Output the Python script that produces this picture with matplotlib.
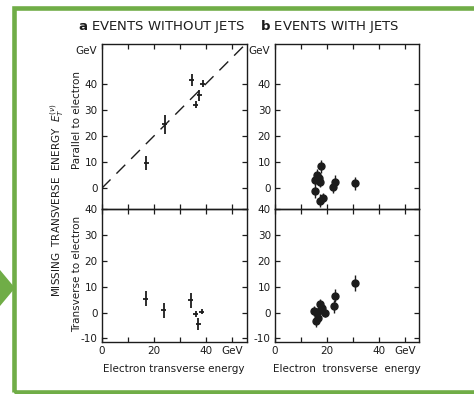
import matplotlib
matplotlib.use("Agg")
import matplotlib.pyplot as plt
from matplotlib.patches import Rectangle, Polygon
import matplotlib.transforms as mtrans

# ---- data ----
# Panel a (without jets): parallel to electron
a_par_x = [17.1, 24.1, 34.4, 36.0, 37.3, 38.6]
a_par_y = [9.8, 24.4, 41.3, 32.0, 35.5, 40.0]
a_par_yerr = [2.7, 3.5, 2.4, 1.3, 2.2, 1.4]
a_par_xerr = [1.0, 1.0, 1.1, 1.0, 1.0, 1.0]
# Panel a: transverse to electron
a_tr_x = [16.8, 23.8, 34.1, 36.0, 37.0, 38.3]
a_tr_y = [5.4, 0.8, 4.8, -0.6, -4.5, 0.4]
a_tr_yerr = [2.9, 3.0, 2.9, 1.2, 2.3, 1.1]
a_tr_xerr = [1.0, 1.0, 1.0, 1.0, 1.0, 1.0]
# Panel b (with jets): parallel to electron
b_par_x = [15.4, 15.4, 16.3, 16.8, 17.3, 17.7, 17.3, 18.6, 22.2, 23.1, 30.8]
b_par_y = [-1.0, 3.2, 5.0, 3.8, 2.5, 8.5, -4.8, -3.6, 0.6, 2.5, 1.9]
b_par_yerr = [2.5, 2.0, 2.5, 2.0, 2.0, 2.5, 2.5, 2.0, 2.5, 2.5, 2.5]
# Panel b: transverse to electron
b_tr_x = [15.0, 15.8, 16.7, 16.3, 17.3, 17.7, 18.3, 19.2, 22.6, 23.1, 31.0]
b_tr_y = [0.6, -3.2, -2.2, -0.3, 3.2, 1.4, 1.9, -0.3, 2.5, 6.5, 11.4]
b_tr_yerr = [2.0, 2.5, 2.0, 2.0, 2.0, 2.0, 2.0, 1.5, 2.5, 2.5, 3.0]

diag = [0, 60]

x_ticks = [0, 10, 20, 30, 40, 50]
x_ticklabels = ['0', '', '20', '', '40', 'GeV']
top_yticks = [0, 10, 20, 30, 40]
bot_yticks = [-10, 0, 10, 20, 30, 40]
bot_yticklabels = ['-10', '0', '10', '20', '30', '40']

W, H = 474, 394
fig = plt.figure(figsize=(W / 100, H / 100), dpi=100)
fig.patch.set_facecolor('white')

ink = '#1c1c1c'
plt.rcParams['font.family'] = ['DejaVu Sans']

def px_axes(x0, y0, x1, y1):
    return fig.add_axes([x0 / W, 1 - y1 / H, (x1 - x0) / W, (y1 - y0) / H])

axL_top = px_axes(101.7, 44.3, 246.7, 209.3)
axL_bot = px_axes(101.7, 209.3, 246.7, 341.7)
axR_top = px_axes(275, 44.3, 419, 209.3)
axR_bot = px_axes(275, 209.3, 419, 341.7)

for ax in (axL_top, axL_bot, axR_top, axR_bot):
    ax.set_xlim(0, 55.5)
    ax.set_xticks(x_ticks)
    ax.tick_params(direction='in', top=True, right=True, length=3.5, width=0.9,
                   colors=ink, labelsize=7.5, pad=3)
    for s in ax.spines.values():
        s.set_linewidth(1.0)
        s.set_color(ink)
    ax.set_facecolor('none')

for ax in (axL_top, axR_top):
    ax.set_ylim(-8, 55)
    ax.set_yticks(top_yticks)
    ax.set_xticklabels([])
    tr = mtrans.blended_transform_factory(ax.transAxes, ax.transData)
    ax.text(-0.035, 52.5, 'GeV', transform=tr, ha='right', va='center',
            fontsize=7.5, color=ink)

for ax in (axL_bot, axR_bot):
    ax.set_ylim(-11.3, 40)
    ax.set_yticks(bot_yticks)
    ax.set_yticklabels(bot_yticklabels)
    ax.set_xticklabels(x_ticklabels)

# panel a
axL_top.plot(diag, diag, ls=(0, (9, 6)), color=ink, lw=1.0)
axL_top.errorbar(a_par_x, a_par_y, yerr=a_par_yerr, xerr=a_par_xerr, fmt='none',
                 ecolor=ink, elinewidth=1.3, capsize=0)
axL_bot.errorbar(a_tr_x, a_tr_y, yerr=a_tr_yerr, xerr=a_tr_xerr, fmt='none',
                 ecolor=ink, elinewidth=1.3, capsize=0)
# panel b
axR_top.errorbar(b_par_x, b_par_y, yerr=b_par_yerr, fmt='o', ms=5, color=ink,
                 ecolor=ink, elinewidth=1.0, capsize=0)
axR_bot.errorbar(b_tr_x, b_tr_y, yerr=b_tr_yerr, fmt='o', ms=5, color=ink,
                 ecolor=ink, elinewidth=1.0, capsize=0)

# x labels
axL_bot.set_xlabel('Electron transverse energy', fontsize=7.5, color=ink, labelpad=6)
axR_bot.set_xlabel('Electron  tronsverse  energy', fontsize=7.5, color=ink, labelpad=6)

# y labels
fig.text(77 / W, 1 - 120 / H, 'Parallel to electron', rotation=90, ha='center',
         va='center', fontsize=7.5, color=ink)
fig.text(77 / W, 1 - 274 / H, 'Transverse to electron', rotation=90, ha='center',
         va='center', fontsize=7.5, color=ink)
fig.text(57 / W, 1 - 200 / H, r'MISSING  TRANSVERSE  ENERGY  $E_T^{(\nu)}$',
         rotation=90, ha='center', va='center', fontsize=7.5, color=ink)

# titles
fig.text(161.7 / W, 1 - 26.7 / H, r'$\mathbf{a}$ EVENTS WITHOUT JETS', ha='center',
         va='center', fontsize=9.5, color=ink)
fig.text(330 / W, 1 - 26.7 / H, r'$\mathbf{b}$ EVENTS WITH JETS', ha='center',
         va='center', fontsize=9.5, color=ink)

# green frame and arrow
green = '#70ad47'
frame = Rectangle((14.2, H - 391.8), 480, 391.8 - 7.5, transform=None, fill=False,
                  edgecolor=green, linewidth=3.3, zorder=10)
fig.add_artist(frame)
tri = Polygon([(0, H - 270), (0, H - 306), (15, H - 288)], closed=True,
              transform=None, facecolor=green, edgecolor='none', zorder=10)
fig.add_artist(tri)

fig.savefig('out.png', dpi=100, facecolor='white')
